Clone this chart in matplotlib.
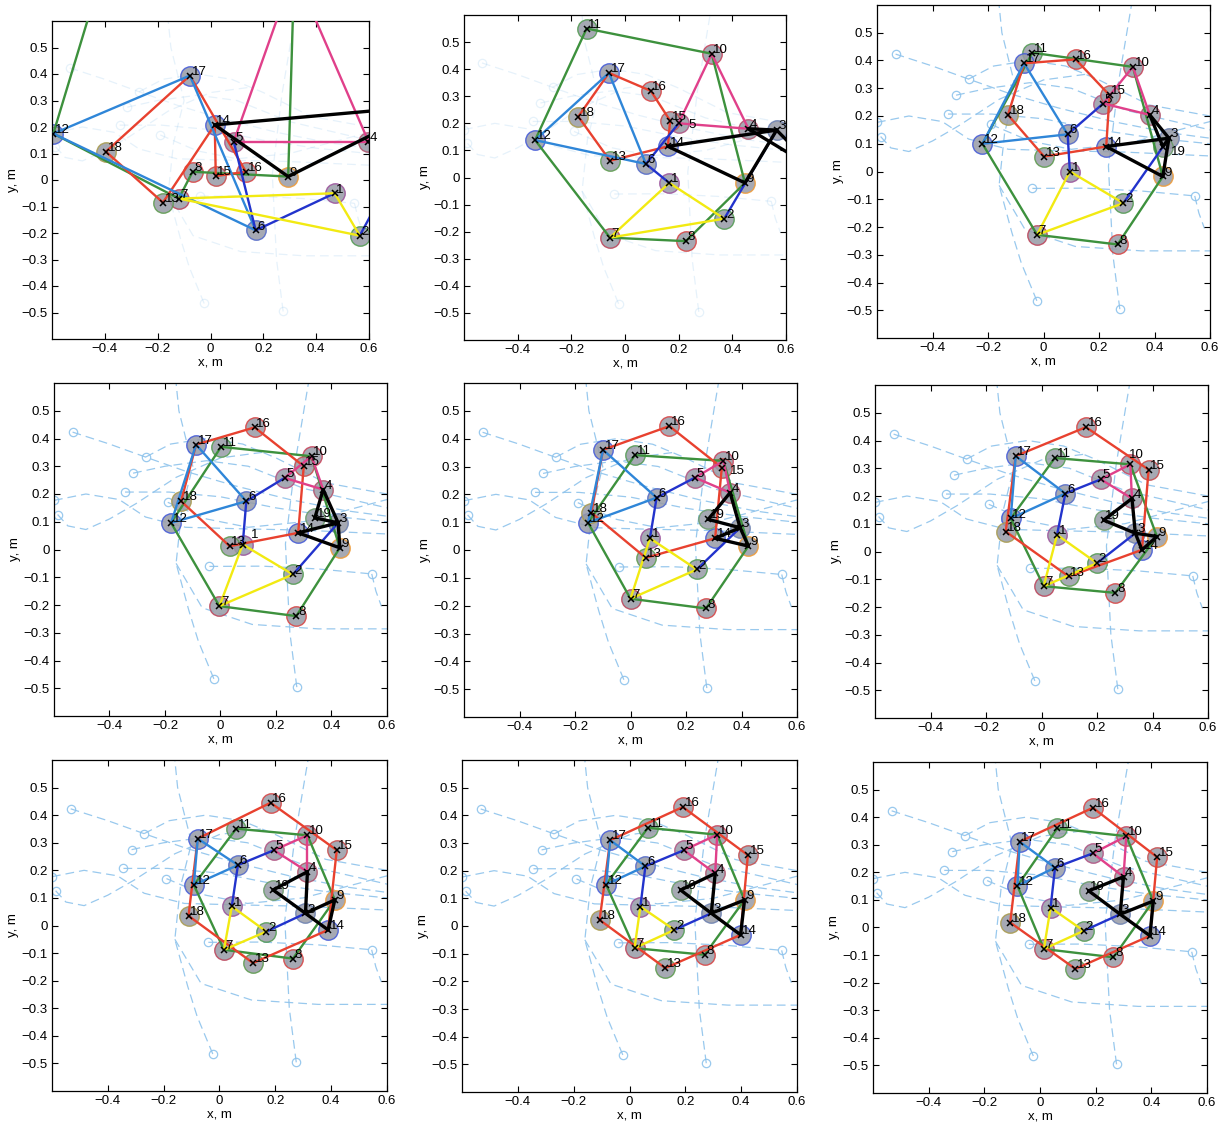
import matplotlib
matplotlib.use("Agg")
import matplotlib.pyplot as plt

plt.rcParams['font.family'] = ['Liberation Sans', 'DejaVu Sans']

# ---------------------------------------------------------------- data
node_ids = list(range(1, 20))

# node positions (index 0 -> node 1 ... index 18 -> node 19), one pair per snapshot
f1_x = [0.47, 0.565, 0.83, 0.598, 0.088, 0.171, -0.12, -0.068, 0.294, 0.317,
        -0.36, -0.595, -0.18, 0.016, 0.02, 0.134, -0.078, -0.396, 0.95]
f1_y = [-0.05, -0.21, 0.28, 0.145, 0.145, -0.19, -0.07, 0.031, 0.013, 0.79,
        0.95, 0.175, -0.085, 0.208, 0.015, 0.031, 0.394, 0.107, 0.05]

f2_x = [0.165, 0.37, 0.565, 0.46, 0.2, 0.078, -0.056, 0.227, 0.447, 0.323,
        -0.143, -0.335, -0.056, 0.16, 0.168, 0.096, -0.06, -0.174, 0.71]
f2_y = [-0.02, -0.152, 0.175, 0.18, 0.2, 0.05, -0.222, -0.235, -0.02, 0.457,
        0.55, 0.138, 0.062, 0.115, 0.21, 0.32, 0.386, 0.225, 0.03]

f3_x = [0.095, 0.288, 0.452, 0.383, 0.215, 0.087, -0.023, 0.267, 0.43, 0.322,
        -0.04, -0.22, 0.002, 0.226, 0.238, 0.116, -0.07, -0.128, 0.43]
f3_y = [0.0, -0.114, 0.12, 0.204, 0.245, 0.134, -0.228, -0.263, -0.018, 0.377,
        0.428, 0.10, 0.054, 0.09, 0.275, 0.404, 0.39, 0.204, 0.09]

f4_x = [0.08, 0.261, 0.424, 0.37, 0.231, 0.093, -0.004, 0.273, 0.43, 0.328,
        0.002, -0.178, 0.033, 0.28, 0.30, 0.123, -0.088, -0.142, 0.34]
f4_y = [0.018, -0.09, 0.096, 0.216, 0.258, 0.174, -0.204, -0.24, 0.006, 0.336,
        0.37, 0.096, 0.012, 0.06, 0.30, 0.44, 0.378, 0.174, 0.114]

f5_x = [0.07, 0.239, 0.395, 0.359, 0.232, 0.094, 0.0, 0.272, 0.425, 0.335,
        0.016, -0.153, 0.055, 0.305, 0.329, 0.14, -0.099, -0.141, 0.28]
f5_y = [0.042, -0.07, 0.08, 0.206, 0.26, 0.188, -0.175, -0.21, 0.014, 0.32,
        0.341, 0.098, -0.028, 0.042, 0.296, 0.445, 0.36, 0.134, 0.11]

f6_x = [0.056, 0.2, 0.338, 0.326, 0.214, 0.086, 0.008, 0.266, 0.416, 0.32,
        0.048, -0.111, 0.098, 0.362, 0.386, 0.16, -0.093, -0.129, 0.224]
f6_y = [0.06, -0.042, 0.066, 0.191, 0.26, 0.209, -0.125, -0.149, 0.054, 0.314,
        0.337, 0.119, -0.09, 0.006, 0.295, 0.448, 0.344, 0.072, 0.113]

f7_x = [0.044, 0.168, 0.308, 0.315, 0.195, 0.066, 0.016, 0.263, 0.413, 0.315,
        0.06, -0.092, 0.12, 0.389, 0.42, 0.183, -0.078, -0.111, 0.192]
f7_y = [0.069, -0.022, 0.044, 0.195, 0.273, 0.219, -0.088, -0.12, 0.093, 0.327,
        0.351, 0.147, -0.136, -0.016, 0.273, 0.445, 0.315, 0.035, 0.129]

f8_x = [0.039, 0.161, 0.293, 0.307, 0.195, 0.057, 0.018, 0.269, 0.412, 0.314,
        0.066, -0.084, 0.128, 0.398, 0.424, 0.191, -0.069, -0.107, 0.183]
f8_y = [0.07, -0.014, 0.046, 0.19, 0.274, 0.216, -0.08, -0.104, 0.094, 0.33,
        0.355, 0.15, -0.152, -0.032, 0.256, 0.43, 0.31, 0.022, 0.13]

f9_x = [0.038, 0.157, 0.288, 0.30, 0.19, 0.054, 0.014, 0.264, 0.407, 0.31,
        0.062, -0.081, 0.127, 0.395, 0.421, 0.19, -0.073, -0.107, 0.175]
f9_y = [0.072, -0.012, 0.048, 0.184, 0.269, 0.217, -0.078, -0.108, 0.096, 0.331,
        0.359, 0.151, -0.15, -0.03, 0.255, 0.434, 0.311, 0.018, 0.133]

frames = [(f1_x, f1_y), (f2_x, f2_y), (f3_x, f3_y),
          (f4_x, f4_y), (f5_x, f5_y), (f6_x, f6_y),
          (f7_x, f7_y), (f8_x, f8_y), (f9_x, f9_y)]

# links of the formation graph, grouped by drawing colour
links_green = [(12, 11), (11, 10), (10, 9), (9, 8), (8, 7), (7, 12)]
links_red = [(17, 16), (16, 15), (15, 14), (14, 13), (13, 18), (18, 17)]
links_lightblue = [(17, 12), (17, 6), (12, 6)]
links_darkblue = [(6, 5), (6, 1), (2, 3)]
links_magenta = [(10, 5), (10, 4), (5, 4)]
links_yellow = [(1, 7), (1, 2), (7, 2)]
links_black = [(14, 3), (14, 9), (9, 3), (4, 3), (4, 19), (3, 19)]

# reference paths (dashed), first point marked with a circle
path_1 = [(-0.533, 0.423), (-0.40, 0.38), (-0.27, 0.333), (-0.12, 0.28), (0.05, 0.23), (0.25, 0.18), (0.45, 0.14), (0.60, 0.12)]
path_2 = [(-0.27, 0.333), (-0.18, 0.38), (-0.05, 0.40), (0.08, 0.38), (0.2, 0.33), (0.38, 0.24), (0.6, 0.2)]
path_3 = [(-0.315, 0.275), (-0.2, 0.3), (-0.05, 0.32), (0.1, 0.3), (0.3, 0.22), (0.6, 0.15)]
path_4 = [(-0.344, 0.207), (-0.186, 0.207), (0.0, 0.19), (0.2, 0.15), (0.4, 0.12), (0.6, 0.1)]
path_5 = [(-0.19, 0.17), (-0.05, 0.11), (0.1, 0.08), (0.3, 0.1), (0.45, 0.14), (0.6, 0.18)]
path_6 = [(-0.587, 0.126), (-0.55, 0.085), (-0.485, 0.072), (-0.4, 0.11), (-0.305, 0.165), (-0.16, 0.26), (0.0, 0.33), (0.15, 0.35)]
path_7 = [(-0.6, 0.177), (-0.485, 0.2), (-0.365, 0.18), (-0.27, 0.117), (-0.126, 0.08), (0.054, 0.075), (0.29, 0.07), (0.6, 0.056)]
path_8 = [(-0.04, -0.061), (0.15, -0.06), (0.35, -0.07), (0.545, -0.088)]
path_9 = [(-0.024, -0.466), (-0.08, -0.33), (-0.114, -0.22), (-0.16, -0.05), (-0.14, 0.14), (-0.1, 0.3), (-0.15, 0.5), (-0.16, 0.6)]
path_10 = [(0.275, -0.496), (0.25, -0.3), (0.234, 0.02), (0.27, 0.32), (0.317, 0.6)]
path_11 = [(0.545, -0.088), (0.56, -0.15), (0.58, -0.205)]
path_12 = [(-0.16, -0.05), (-0.066, -0.21), (0.114, -0.27), (0.353, -0.286), (0.6, -0.286)]
marked_paths = [path_1, path_2, path_3, path_4, path_5, path_6, path_7,
                path_8, path_9, path_10, path_11]
plain_paths = [path_12]

x_ticks = [-0.4, -0.2, 0, 0.2, 0.4, 0.6]
y_ticks = [-0.5, -0.4, -0.3, -0.2, -0.1, 0, 0.1, 0.2, 0.3, 0.4, 0.5]

# ---------------------------------------------------------------- styling
ring_colors = {
    1: '#9a4f9a', 2: '#4f9a4f', 3: '#6a7fb0', 4: '#b04f6a', 5: '#b04f80',
    6: '#4f66c8', 7: '#bb4057', 8: '#d84040', 9: '#f09a33', 10: '#c84058',
    11: '#4f9a4f', 12: '#4057d8', 13: '#5a9a4a', 14: '#4057d8', 15: '#c84a4a',
    16: '#d84040', 17: '#4057d8', 18: '#a89a4a', 19: '#669a66',
}
link_styles = [
    (links_green, '#3d913d', 1.7),
    (links_red, '#e8412f', 1.7),
    (links_lightblue, '#2f86d8', 1.7),
    (links_darkblue, '#2233cc', 1.7),
    (links_magenta, '#e0408a', 1.7),
    (links_yellow, '#f2ea12', 1.7),
    (links_black, '#000000', 2.4),
]
path_color = '#8ec3ec'

# label nudges (panel index, node) -> (dx, dy) where labels crowd each other
label_shift = {(1, 5): (0.03, -0.02), (3, 1): (0.025, 0.02),
               (5, 10): (-0.01, 0.02), (4, 15): (0.025, -0.025),
               (2, 19): (0.025, -0.035)}

# axes rectangles in pixels: left, right, top, bottom
W, H = 1227, 1131
rects_px = [
    (52, 369, 21, 339), (464, 786, 15, 340), (877, 1210, 5, 338),
    (54, 387, 383, 716), (464, 797, 383, 717), (875, 1208, 385, 718),
    (52, 387, 760, 1091), (462, 797, 760, 1092), (873, 1207, 762, 1093),
]

fig = plt.figure(figsize=(W / 100, H / 100), dpi=100)
fig.patch.set_facecolor('white')


def minus(v):
    return ('%g' % v).replace('-', '\u2212')


for k, ((xs, ys), (l, r, t, b)) in enumerate(zip(frames, rects_px)):
    ax = fig.add_axes([l / W, 1 - b / H, (r - l) / W, (b - t) / H])
    ax.set_xlim(-0.6, 0.6)
    ax.set_ylim(-0.6, 0.6)

    # dashed reference paths
    path_alpha = 0.22 if k < 2 else 0.9
    for p in marked_paths + plain_paths:
        px = [q[0] for q in p]
        py = [q[1] for q in p]
        ax.plot(px, py, ls=(0, (7, 4)), color=path_color, lw=0.9,
                alpha=path_alpha, zorder=1)
    for p in marked_paths:
        ax.plot(p[0][0], p[0][1], 'o', mfc='none', mec=path_color, ms=6,
                mew=0.9, alpha=path_alpha, zorder=1)

    pos = {n: (xs[i], ys[i]) for i, n in enumerate(node_ids)}

    # agent discs
    for n in node_ids:
        x, y = pos[n]
        ax.plot(x, y, 'o', ms=14, mfc='#979aa6', mec=ring_colors[n],
                mew=1.0, alpha=0.85, zorder=2)

    # graph links
    for links, col, lw in link_styles:
        for a, c in links:
            ax.plot([pos[a][0], pos[c][0]], [pos[a][1], pos[c][1]],
                    color=col, lw=lw, solid_capstyle='round', zorder=3)

    # heading marks and labels
    for n in node_ids:
        x, y = pos[n]
        ax.plot(x, y, marker='x', ms=4, mew=1.1, color='black', zorder=4)
        if -0.6 <= x <= 0.6 and -0.6 <= y <= 0.6:
            dx, dy = label_shift.get((k, n), (0.0, 0.0))
            ax.text(x + 0.006 + dx, y + 0.014 + dy, str(n), fontsize=9.5,
                    color='black', ha='left', va='center', zorder=5,
                    clip_on=False)

    ax.set_xticks(x_ticks)
    ax.set_xticklabels([minus(v) for v in x_ticks])
    ax.set_yticks(y_ticks)
    ax.set_yticklabels([minus(v) for v in y_ticks])
    ax.tick_params(direction='in', length=4, width=0.8, top=True, right=True,
                   labelsize=9.5, pad=3)
    for s in ax.spines.values():
        s.set_linewidth(0.9)
    ax.set_xlabel('x, m', fontsize=9.5, labelpad=1)
    ax.set_ylabel('y, m', fontsize=9.5, labelpad=2)

fig.savefig('out.png', dpi=100, facecolor='white')
